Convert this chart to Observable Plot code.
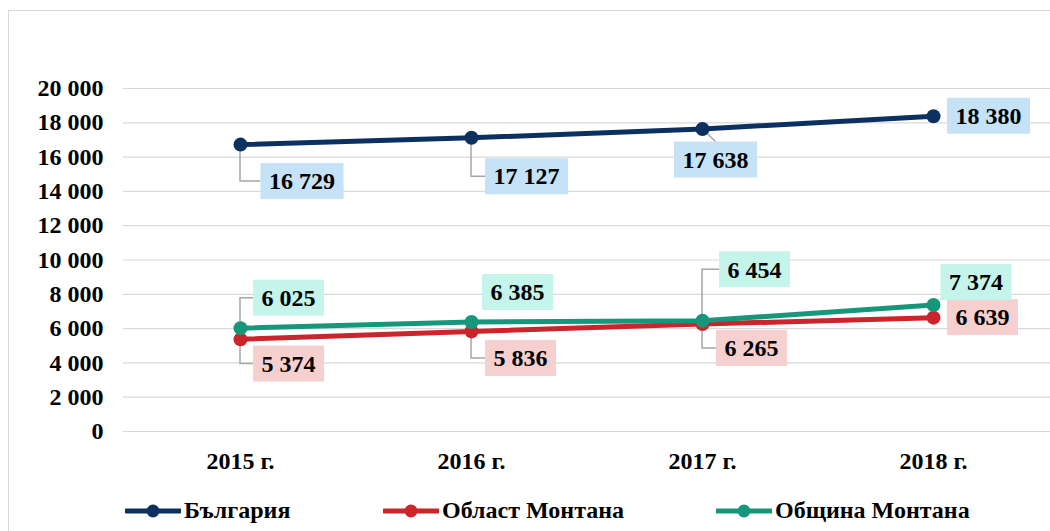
<!DOCTYPE html>
<html>
<head>
<meta charset="utf-8">
<script src="https://cdn.jsdelivr.net/npm/d3@7"></script>
<script src="https://cdn.jsdelivr.net/npm/@observablehq/plot@0.6"></script>
<style>
  html, body { margin: 0; padding: 0; background: #fff; overflow: hidden; }
  #wrap { position: relative; width: 1050px; height: 531px; overflow: hidden; font-family: "Liberation Serif", "Times New Roman", serif; }
  #frame { position: absolute; left: 8px; top: 10px; width: 2000px; height: 1000px; border: 1.5px solid #d9d9d9; box-sizing: border-box; }
  #chart { position: absolute; left: 0; top: 0; }
  #legend { position: absolute; left: 0; top: 480px; width: 1050px; height: 51px; font-weight: bold; font-size: 24px; color: #000; }
  .item { position: absolute; top: 17px; display: flex; align-items: center; white-space: nowrap; }
  .item svg { margin-right: 3px; }
</style>
</head>
<body>
<div id="wrap"><div id="frame"></div><div id="chart"></div><div id="legend"></div></div>
<script>
// ---- data ----
const years = ["2015 г.", "2016 г.", "2017 г.", "2018 г."];
const seriesNames = ["България", "Област Монтана", "Община Монтана"];
const bulgaria = [16729, 17127, 17638, 18380];
const oblastMontana = [5374, 5836, 6265, 6639];
const obshtinaMontana = [6025, 6385, 6454, 7374];
const yTicks = [0, 2000, 4000, 6000, 8000, 10000, 12000, 14000, 16000, 18000, 20000];

// ---- styles ----
const lineColors = ["#0c3160", "#c9252b", "#16977b"];
const boxColors = ["#c5e2f6", "#f6d0cf", "#c4f4ea"];
// label offsets (px) from each point: [dx, dy, leader]
const labelOffsets = [
  [[62, 37, "elbow"], [55.5, 39, "elbow"], [13.5, 31, "diag"], [55.5, 0, null]],
  [[48.5, 24.7, "elbow"], [49.5, 27, "elbow"], [49.5, 24.4, "elbow"], [49.5, 0, null]],
  [[48.5, -30, "elbow"], [46.5, -29.5, null], [52.5, -51, "elbow"], [43, -22.5, null]]
];

const valuesBySeries = [bulgaria, oblastMontana, obshtinaMontana];
const rows = [];
valuesBySeries.forEach((vals, s) => vals.forEach((v, i) => rows.push({series: seriesNames[s], si: s, i, year: years[i], value: v})));

const fmt = d3.formatLocale({thousands: " ", grouping: [3], decimal: ",", currency: ["", ""]}).format(",d");
const FONT = '"Liberation Serif", "Times New Roman", serif';

const ctx = document.createElement("canvas").getContext("2d");
ctx.font = `bold 24px ${FONT}`;

function labelsMark(...args) {
  const sc = args.find(a => a && typeof a.x === "function" && typeof a.y === "function");
  const NS = "http://www.w3.org/2000/svg";
  const g = document.createElementNS(NS, "g");
  const leaders = document.createElementNS(NS, "g");
  const boxes = document.createElementNS(NS, "g");
  g.appendChild(leaders); g.appendChild(boxes);
  rows.forEach(r => {
    const [dx, dy, kind] = labelOffsets[r.si][r.i];
    const px = sc.x(r.year) + (sc.x.bandwidth ? sc.x.bandwidth() / 2 : 0);
    const py = sc.y(r.value);
    const txt = fmt(r.value);
    const w = ctx.measureText(txt).width + 17;
    const h = 36;
    const cx = px + dx, cy = py + dy;
    if (kind) {
      const p = document.createElementNS(NS, "polyline");
      let pts;
      if (kind === "elbow") pts = [[px, py], [px, cy], [cx - w / 2, cy]];
      else pts = [[px, py], [cx, cy - h / 2]];
      p.setAttribute("points", pts.map(q => q.join(",")).join(" "));
      p.setAttribute("fill", "none");
      p.setAttribute("stroke", "#a6a6a6");
      p.setAttribute("stroke-width", "1.5");
      leaders.appendChild(p);
    }
    const rect = document.createElementNS(NS, "rect");
    rect.setAttribute("x", cx - w / 2); rect.setAttribute("y", cy - h / 2);
    rect.setAttribute("width", w); rect.setAttribute("height", h);
    rect.setAttribute("fill", boxColors[r.si]);
    boxes.appendChild(rect);
    const t = document.createElementNS(NS, "text");
    t.setAttribute("x", cx); t.setAttribute("y", cy + 8.2);
    t.setAttribute("text-anchor", "middle");
    t.setAttribute("font-weight", "bold");
    t.setAttribute("font-size", "24");
    t.setAttribute("font-family", FONT);
    t.setAttribute("fill", "#000");
    t.textContent = txt;
    boxes.appendChild(t);
  });
  return g;
}

const chart = Plot.plot({
  width: 1050,
  height: 480,
  marginTop: 88,
  marginBottom: 49,
  marginLeft: 123,
  marginRight: 0,
  style: {fontFamily: FONT, fontWeight: "bold", fontSize: "24px", color: "#000", background: "transparent", overflow: "visible"},
  x: {type: "point", domain: years, padding: 0.5, label: null, tickSize: 0, tickPadding: 20},
  y: {domain: [0, 20000], ticks: yTicks, tickFormat: fmt, label: null, tickSize: 0, tickPadding: 20},
  color: {domain: seriesNames, range: lineColors},
  marks: [
    Plot.ruleY(yTicks, {stroke: "#d9d9d9", strokeWidth: 1.2}),
    Plot.lineY(rows, {x: "year", y: "value", z: "series", stroke: "series", strokeWidth: 5}),
    labelsMark,
    Plot.dot(rows, {x: "year", y: "value", fill: "series", r: 7, stroke: null})
  ]
});
document.getElementById("chart").appendChild(chart);

// keep leaders beneath dots, boxes and texts above
(function () {
  const svg = chart.tagName === "svg" ? chart : chart.querySelector("svg");
  const gs = Array.from(svg.children).filter(el => el.tagName === "g" && !el.getAttribute("aria-label"));
  gs.forEach(g => {
    if (g.children.length === 2) svg.appendChild(g.children[1]);
  });
})();

// legend
const legend = document.getElementById("legend");
const legendX = [125, 383, 716];
seriesNames.forEach((name, i) => {
  const item = document.createElement("div");
  item.className = "item";
  item.style.left = legendX[i] + "px";
  item.innerHTML = `<svg width="56" height="16"><line x1="1" x2="55" y1="8" y2="8" stroke="${lineColors[i]}" stroke-width="5" stroke-linecap="round"/><circle cx="28" cy="8" r="6.5" fill="${lineColors[i]}"/></svg><span>${name}</span>`;
  legend.appendChild(item);
});
</script>
</body>
</html>
